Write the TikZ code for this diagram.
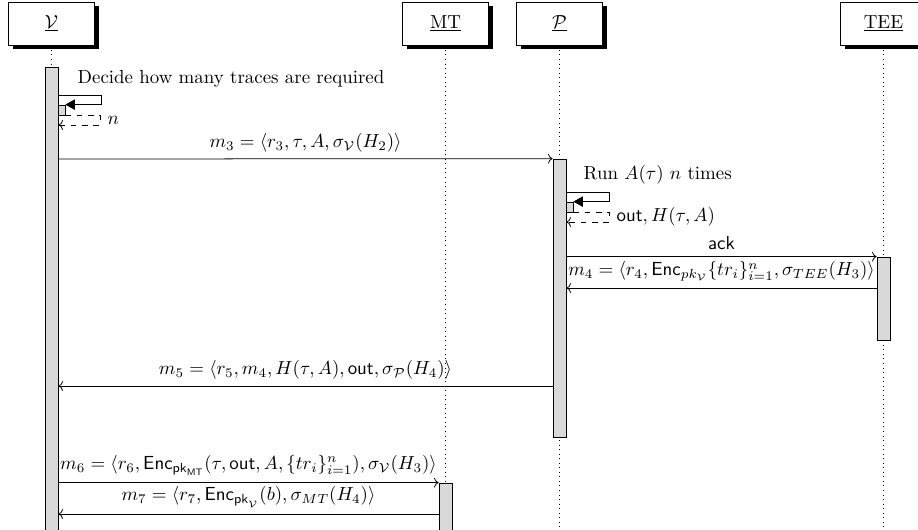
\documentclass[tikz,border=0pt]{standalone}
\usepackage{amsmath,amssymb}
\usetikzlibrary{shadows,fit,arrows.meta,calc}
\begin{document}
\begin{tikzpicture}[x=0.529pt,y=-0.529pt,
  inst/.style={draw, fill=white, minimum width=1.6cm, minimum height=0.8cm, drop shadow={opacity=1,fill=black}},
  life/.style={dotted},
  actbar/.style={draw, fill=gray!30, inner sep=0pt},
  msg/.style={->},
  ret/.style={dashed,->},
  selfcall/.style={-{Triangle[length=5pt,width=5.5pt]}},
  lbl/.style={midway, above}]
\useasboundingbox (0,0) rectangle (918,529);
\clip (0,0) rectangle (918,529);
\coordinate (bottom) at (0,545);
% instances
\node[inst] (V) at (51.5,23.5) {\underline{$\mathcal{V}$}};
\node[inst] (MT) at (445.5,23.5) {\underline{MT}};
\node[inst] (P) at (559.5,23.5) {\underline{$\mathcal{P}$}};
\node[inst] (TEE) at (883.5,23.5) {\underline{TEE}};
% lifelines
\draw[life] (V.south) -- (V.south |- bottom);
\draw[life] (MT.south) -- (MT.south |- bottom);
\draw[life] (P.south) -- (P.south |- bottom);
\draw[life] (TEE.south) -- (TEE.south |- bottom);
% activation bars
\node[actbar, fit={(45,67) (58,545)}] (vbar) {};
\node[actbar, fit={(553,159) (566,437)}] (pbar) {};
\node[actbar, fit={(877,257) (890,340)}] (teebar) {};
\node[actbar, fit={(439,483) (452,545)}] (mtbar) {};
\node[actbar, fit={(58,105) (65,115)}] (vsub) {};
\node[actbar, fit={(566,202) (573,212)}] (psub) {};
% V self call
\node[anchor=west] (decide) at (71,79) {Decide how many traces are required};
\coordinate (vturn) at (101,95);
\coordinate (vret) at (100,125);
\draw[selfcall] (vbar.east |- vturn) -- (vturn) |- (vsub.north east);
\draw[ret] (vsub.south east) -| (vret) -- (vbar.east |- vret);
\node[anchor=west] (nlbl) at (101,120) {$n$};
% m3
\coordinate (r3) at (0,159);
\draw[msg] (vbar.east |- r3) -- node[lbl] {$m_3 = \langle r_3, \tau, A, \sigma_{\mathcal{V}}(H_2)\rangle$} (pbar.north west);
% P self call
\node[anchor=west] (run) at (577,175) {Run $A(\tau)$ $n$ times};
\coordinate (pturn) at (609,192);
\coordinate (pret) at (609,222);
\draw[selfcall] (pbar.east |- pturn) -- (pturn) |- (psub.north east);
\draw[ret] (psub.south east) -| (pret) -- (pbar.east |- pret);
\node[anchor=west] (outl) at (610,217) {$\mathsf{out}, H(\tau, A)$};
% ack
\draw[msg] (pbar.east |- teebar.north) -- node[lbl] {\textsf{ack}} (teebar.north west);
% m4
\coordinate (r4) at (0,288);
\draw[msg] (teebar.west |- r4) -- node[lbl] {$m_4 = \langle r_4, \mathsf{Enc}_{pk_{\mathcal{V}}}\{tr_i\}_{i=1}^{n}, \sigma_{TEE}(H_3)\rangle$} (pbar.east |- r4);
% m5
\coordinate (r5) at (0,386);
\draw[msg] (pbar.west |- r5) -- node[lbl] {$m_5 = \langle r_5, m_4, H(\tau, A), \mathsf{out}, \sigma_{\mathcal{P}}(H_4)\rangle$} (vbar.east |- r5);
% m6
\draw[msg] (vbar.east |- mtbar.north) -- node[lbl] {$m_6 = \langle r_6, \mathsf{Enc}_{\mathsf{pk}_{\mathsf{MT}}}(\tau, \mathsf{out}, A, \{tr_i\}_{i=1}^{n}), \sigma_{\mathcal{V}}(H_3)\rangle$} (mtbar.north west);
% m7
\coordinate (r7) at (0,514);
\draw[msg] (mtbar.west |- r7) -- node[lbl] {$m_7 = \langle r_7, \mathsf{Enc}_{\mathsf{pk}_{\mathcal{V}}}(b), \sigma_{MT}(H_4)\rangle$} (vbar.east |- r7);
\end{tikzpicture}
\end{document}
